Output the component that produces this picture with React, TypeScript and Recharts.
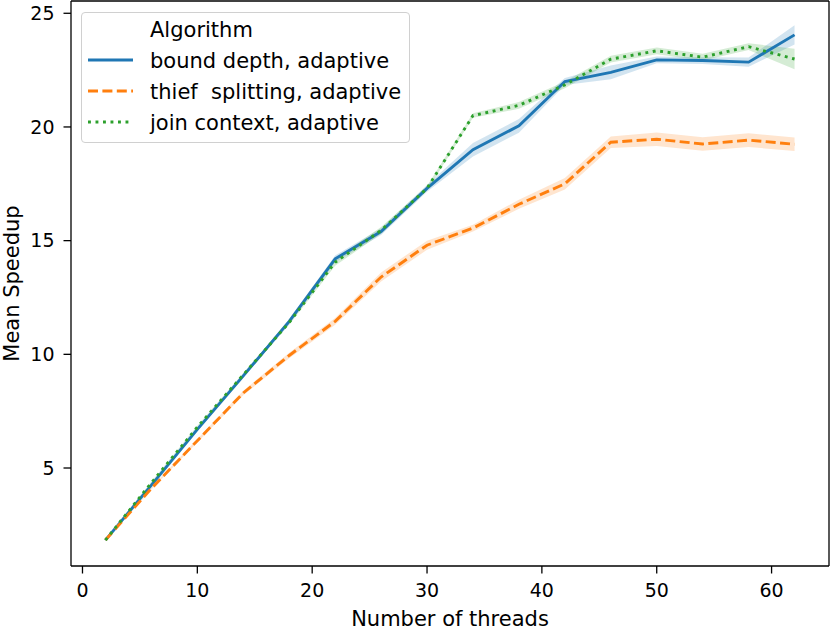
import { ComposedChart, Line, Area, XAxis, YAxis, ReferenceLine } from 'recharts';

const threads = [2, 6, 10, 14, 18, 22, 26, 30, 34, 38, 42, 46, 50, 54, 58, 62];

const boundDepth = [1.83, 4.25, 6.7, 9.05, 11.45, 14.2, 15.4, 17.3, 19.0, 20.05, 22.0, 22.4, 22.95, 22.92, 22.85, 24.05];
const boundDepthCi = [0.03, 0.05, 0.06, 0.08, 0.1, 0.15, 0.15, 0.15, 0.3, 0.3, 0.15, 0.3, 0.15, 0.15, 0.2, 0.42];

const thiefSplitting = [1.83, 4.1, 6.2, 8.3, 9.95, 11.45, 13.4, 14.8, 15.55, 16.6, 17.5, 19.33, 19.46, 19.25, 19.42, 19.24];
const thiefSplittingCi = [0.03, 0.05, 0.08, 0.1, 0.12, 0.15, 0.2, 0.2, 0.15, 0.2, 0.25, 0.25, 0.3, 0.3, 0.3, 0.3];

const joinContext = [1.83, 4.35, 6.8, 9.1, 11.4, 14.05, 15.45, 17.3, 20.5, 20.95, 21.85, 22.98, 23.35, 23.07, 23.53, 22.99];
const joinContextCi = [0.03, 0.05, 0.06, 0.08, 0.1, 0.15, 0.15, 0.1, 0.1, 0.15, 0.15, 0.15, 0.15, 0.15, 0.15, 0.45];

const xTicks = [0, 10, 20, 30, 40, 50, 60];
const yTicks = [5, 10, 15, 20, 25];
const xDomain = [-1, 65];
const yDomain = [0.69, 25.54];

const BLUE = '#1f77b4';
const ORANGE = '#ff7f0e';
const GREEN = '#2ca02c';
const FONT = '"DejaVu Sans", sans-serif';
const LW = 2.9;
const DASHED = '10 4.4';
const DOTTED = '2.9 4.6';

const data = threads.map((t, i) => ({
  threads: t,
  bd: boundDepth[i],
  bdBand: [boundDepth[i] - boundDepthCi[i], boundDepth[i] + boundDepthCi[i]],
  ts: thiefSplitting[i],
  tsBand: [thiefSplitting[i] - thiefSplittingCi[i], thiefSplitting[i] + thiefSplittingCi[i]],
  jc: joinContext[i],
  jcBand: [joinContext[i] - joinContextCi[i], joinContext[i] + joinContextCi[i]],
}));

const legendItems = [
  { name: 'bound depth, adaptive', color: BLUE, dash: undefined },
  { name: 'thief  splitting, adaptive', color: ORANGE, dash: DASHED },
  { name: 'join context, adaptive', color: GREEN, dash: DOTTED },
];

const YLabel = ({ viewBox }: any) => {
  const cy = viewBox.y + viewBox.height / 2;
  return (
    <text
      x={18.5}
      y={cy}
      transform={`rotate(-90, 18.5, ${cy})`}
      textAnchor="middle"
      fontSize={21}
      fontFamily={FONT}
      fill="#000"
    >
      Mean Speedup
    </text>
  );
};

export default function App() {
  const tickStyle = { fill: '#000', fontSize: 19, fontFamily: FONT };
  return (
    <div style={{ position: 'absolute', left: 0, top: 0, width: 830, height: 631, background: '#fff' }}>
      <ComposedChart width={830} height={631} data={data} margin={{ top: 1, right: 1, left: 0, bottom: 0 }}>
        <XAxis
          dataKey="threads"
          type="number"
          domain={xDomain}
          ticks={xTicks}
          allowDataOverflow
          height={65}
          tickSize={7.5}
          tickMargin={10.5}
          stroke="#000"
          strokeWidth={1.3}
          tick={tickStyle}
          label={{ value: 'Number of threads', position: 'insideBottom', offset: 5, fill: '#000', fontSize: 21, fontFamily: FONT }}
        />
        <YAxis
          type="number"
          domain={yDomain}
          ticks={yTicks}
          allowDataOverflow
          width={71}
          tickSize={7.5}
          tickMargin={9}
          stroke="#000"
          strokeWidth={1.3}
          tick={tickStyle}
          label={<YLabel />}
        />
        {/* top and right spines */}
        <ReferenceLine y={yDomain[1]} stroke="#000" strokeWidth={1.3} />
        <ReferenceLine x={xDomain[1]} stroke="#000" strokeWidth={1.3} />

        <Line dataKey="bd" stroke={BLUE} strokeWidth={LW} dot={false} isAnimationActive={false} />
        <Area dataKey="bdBand" stroke="none" fill={BLUE} fillOpacity={0.2} isAnimationActive={false} />
        <Line dataKey="ts" stroke={ORANGE} strokeWidth={LW} strokeDasharray={DASHED} dot={false} isAnimationActive={false} />
        <Area dataKey="tsBand" stroke="none" fill={ORANGE} fillOpacity={0.2} isAnimationActive={false} />
        <Line dataKey="jc" stroke={GREEN} strokeWidth={LW} strokeDasharray={DOTTED} dot={false} isAnimationActive={false} />
        <Area dataKey="jcBand" stroke="none" fill={GREEN} fillOpacity={0.2} isAnimationActive={false} />
      </ComposedChart>

      {/* legend box, upper left */}
      <div
        style={{
          position: 'absolute',
          left: 81,
          top: 12,
          width: 329,
          height: 131,
          boxSizing: 'border-box',
          border: '1px solid #d0d0d0',
          borderRadius: 4,
          background: 'rgba(255,255,255,0.8)',
        }}
      >
        <svg width={327} height={129} style={{ position: 'absolute', left: -1, top: -1, overflow: 'visible' }}>
          <text x={69} y={24.7} fontSize={21} fontFamily={FONT} fill="#000">Algorithm</text>
          {legendItems.map((item, i) => (
            <g key={item.name}>
              <line x1={7} y1={48 + i * 31} x2={52} y2={48 + i * 31} stroke={item.color} strokeWidth={LW} strokeDasharray={item.dash} />
              <text x={69} y={55.7 + i * 31} fontSize={21} fontFamily={FONT} fill="#000" style={{ whiteSpace: 'pre' }}>
                {item.name}
              </text>
            </g>
          ))}
        </svg>
      </div>
    </div>
  );
}
